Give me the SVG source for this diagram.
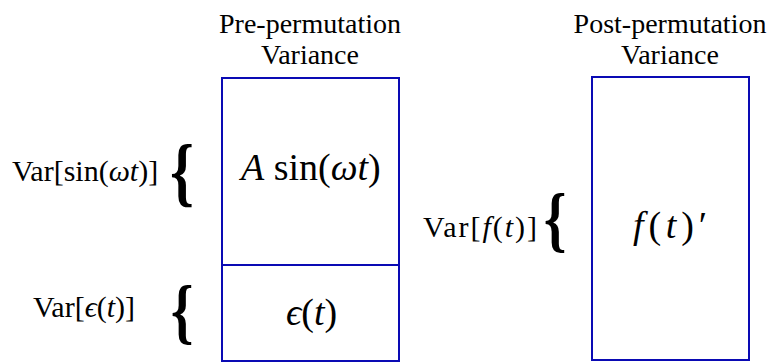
<svg xmlns="http://www.w3.org/2000/svg" width="773" height="363" viewBox="0 0 773 363">
<style>
.title{font-family:"Liberation Serif","Times New Roman",serif;font-size:28px;fill:#000;text-anchor:middle}
.lbl{font-family:"Liberation Serif","DejaVu Serif",serif;font-size:30px;fill:#000}
.big{font-family:"Liberation Serif","DejaVu Serif",serif;font-size:38px;fill:#000}
.it{font-style:italic}
.brace{font-family:"Liberation Serif","DejaVu Serif",serif;font-weight:bold;fill:#000;text-anchor:middle}
.box{fill:#fff;stroke:#0a0ab4;stroke-width:2}
</style>
<rect width="773" height="363" fill="#fff"/>
<g id="pre-title">
<text class="title" x="310" y="33">Pre-permutation</text>
<text class="title" x="310" y="64">Variance</text>
</g>
<g id="post-title">
<text class="title" x="670" y="33">Post-permutation</text>
<text class="title" x="670" y="64">Variance</text>
</g>
<g id="pre-box">
<rect class="box" x="222" y="78" width="177" height="283"/>
<line class="box" x1="222" y1="265" x2="399" y2="265"/>
</g>
<g id="signal">
<text class="big" x="241" y="180"><tspan class="it">A</tspan> sin(<tspan class="it">ωt</tspan>)</text>
</g>
<g id="noise">
<text class="big" x="286" y="325"><tspan class="it">ϵ</tspan>(<tspan class="it">t</tspan>)</text>
</g>
<g id="post-box">
<rect class="box" x="592" y="77" width="157" height="283"/>
<text class="big" x="633" y="238" font-size="40" textLength="74" lengthAdjust="spacing"><tspan class="it">f</tspan>(<tspan class="it">t</tspan>)′</text>
</g>
<g id="var-sin">
<text class="lbl" x="12" y="181">Var[sin(<tspan class="it">ωt</tspan>)]</text>
<text class="brace" transform="translate(182,197) scale(0.8,1)" font-size="76">{</text>
</g>
<g id="var-eps">
<text class="lbl" x="33" y="317">Var[<tspan class="it">ϵ</tspan>(<tspan class="it">t</tspan>)]</text>
<text class="brace" transform="translate(182,335) scale(0.8,1)" font-size="72">{</text>
</g>
<g id="var-f">
<text class="lbl" x="423" y="237" textLength="114" lengthAdjust="spacing">Var[<tspan class="it">f</tspan>(<tspan class="it">t</tspan>)]</text>
<text class="brace" transform="translate(555,243) scale(0.8,1)" font-size="72">{</text>
</g>
<g id="connectors"></g>
</svg>
